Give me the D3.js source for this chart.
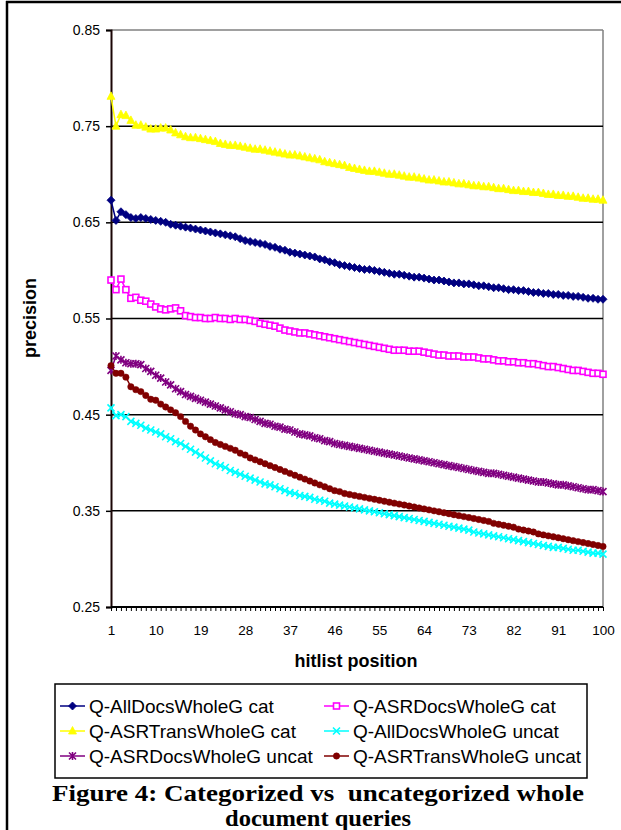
<!DOCTYPE html>
<html><head><meta charset="utf-8">
<script src="https://cdn.jsdelivr.net/npm/d3@7"></script>
<style>body{margin:0;background:#fff;}svg{display:block;}</style>
</head><body>
<svg id="chart" width="621" height="830"></svg>
<script>
const positions = d3.range(1, 101);
const xTickLabels = [1,10,19,28,37,46,55,64,73,82,91,100];
const yTicks = [0.25,0.35,0.45,0.55,0.65,0.75,0.85];
const seriesNames = ["Q-AllDocsWholeG cat","Q-ASRDocsWholeG cat","Q-ASRTransWholeG cat","Q-AllDocsWholeG uncat","Q-ASRDocsWholeG uncat","Q-ASRTransWholeG uncat"];

const allDocsCat = [0.673,0.652,0.661,0.658,0.655,0.654,0.655,0.654,0.653,0.652,
0.651,0.650,0.648,0.647,0.646,0.645,0.644,0.643,0.642,0.641,
0.640,0.639,0.638,0.637,0.636,0.635,0.633,0.631,0.630,0.629,
0.628,0.627,0.625,0.624,0.622,0.621,0.619,0.618,0.617,0.616,
0.615,0.614,0.612,0.611,0.609,0.608,0.606,0.605,0.604,0.603,
0.602,0.601,0.601,0.600,0.599,0.598,0.597,0.596,0.596,0.595,
0.594,0.593,0.593,0.592,0.591,0.590,0.590,0.589,0.588,0.587,
0.587,0.586,0.586,0.585,0.584,0.584,0.583,0.582,0.582,0.581,
0.580,0.580,0.579,0.579,0.578,0.577,0.577,0.576,0.576,0.575,
0.575,0.574,0.574,0.573,0.573,0.572,0.571,0.571,0.570,0.570];

const asrDocsCat = [0.590,0.580,0.591,0.580,0.571,0.572,0.569,0.568,0.565,0.562,
0.560,0.559,0.560,0.561,0.558,0.553,0.552,0.551,0.551,0.550,
0.550,0.551,0.550,0.550,0.549,0.550,0.549,0.549,0.548,0.547,
0.545,0.544,0.543,0.542,0.540,0.538,0.537,0.536,0.535,0.535,
0.534,0.533,0.532,0.531,0.530,0.529,0.528,0.527,0.526,0.525,
0.524,0.523,0.522,0.521,0.520,0.519,0.518,0.517,0.517,0.517,
0.516,0.516,0.516,0.515,0.514,0.513,0.512,0.512,0.511,0.511,
0.511,0.510,0.510,0.510,0.509,0.508,0.508,0.507,0.506,0.506,
0.505,0.505,0.504,0.504,0.503,0.503,0.502,0.501,0.500,0.500,
0.499,0.498,0.497,0.496,0.496,0.495,0.494,0.493,0.493,0.492];

const asrTransCat = [0.781,0.750,0.762,0.761,0.756,0.751,0.751,0.749,0.747,0.747,
0.748,0.748,0.746,0.743,0.741,0.739,0.738,0.738,0.737,0.736,
0.735,0.734,0.732,0.731,0.730,0.730,0.729,0.728,0.727,0.726,
0.726,0.725,0.724,0.723,0.722,0.721,0.720,0.720,0.719,0.718,
0.717,0.716,0.715,0.713,0.712,0.711,0.710,0.709,0.707,0.706,
0.705,0.704,0.703,0.703,0.702,0.701,0.700,0.700,0.699,0.698,
0.697,0.697,0.696,0.695,0.694,0.694,0.693,0.692,0.692,0.691,
0.690,0.690,0.689,0.688,0.688,0.687,0.687,0.686,0.685,0.685,
0.684,0.683,0.683,0.682,0.682,0.681,0.681,0.680,0.679,0.679,
0.678,0.678,0.677,0.677,0.676,0.675,0.675,0.674,0.674,0.673];

const allDocsUncat = [0.457,0.449,0.450,0.448,0.443,0.441,0.439,0.436,0.434,0.432,
0.430,0.427,0.425,0.422,0.420,0.417,0.414,0.411,0.408,0.405,
0.402,0.399,0.397,0.395,0.392,0.390,0.388,0.386,0.384,0.382,
0.380,0.378,0.377,0.375,0.373,0.371,0.369,0.368,0.366,0.365,
0.364,0.362,0.361,0.360,0.358,0.357,0.356,0.355,0.354,0.353,
0.352,0.351,0.350,0.349,0.348,0.347,0.346,0.345,0.344,0.343,
0.342,0.341,0.340,0.339,0.338,0.337,0.336,0.335,0.334,0.333,
0.332,0.331,0.330,0.328,0.327,0.326,0.325,0.324,0.323,0.322,
0.321,0.320,0.319,0.318,0.317,0.316,0.315,0.314,0.313,0.312,
0.312,0.311,0.310,0.309,0.309,0.308,0.307,0.306,0.306,0.305];

const asrDocsUncat = [0.496,0.511,0.507,0.504,0.503,0.503,0.502,0.498,0.495,0.491,
0.488,0.484,0.481,0.477,0.474,0.471,0.469,0.467,0.465,0.463,
0.461,0.459,0.457,0.455,0.453,0.451,0.450,0.448,0.447,0.445,
0.443,0.441,0.440,0.438,0.437,0.435,0.434,0.432,0.430,0.429,
0.428,0.426,0.425,0.423,0.422,0.420,0.419,0.418,0.417,0.416,
0.415,0.414,0.413,0.412,0.411,0.410,0.409,0.408,0.407,0.406,
0.405,0.404,0.403,0.402,0.401,0.400,0.399,0.398,0.397,0.396,
0.395,0.394,0.393,0.392,0.391,0.390,0.389,0.389,0.388,0.387,
0.386,0.385,0.384,0.383,0.382,0.381,0.380,0.380,0.379,0.378,
0.377,0.377,0.376,0.375,0.374,0.373,0.372,0.372,0.371,0.370];

const asrTransUncat = [0.501,0.493,0.493,0.489,0.479,0.476,0.474,0.470,0.466,0.465,
0.461,0.458,0.455,0.452,0.448,0.443,0.438,0.434,0.430,0.427,
0.424,0.421,0.419,0.417,0.415,0.413,0.410,0.408,0.405,0.403,
0.401,0.399,0.397,0.395,0.393,0.391,0.389,0.387,0.385,0.383,
0.381,0.379,0.377,0.375,0.373,0.371,0.370,0.368,0.367,0.366,
0.365,0.364,0.363,0.362,0.361,0.360,0.359,0.358,0.357,0.356,
0.355,0.354,0.353,0.352,0.351,0.350,0.349,0.348,0.347,0.346,
0.345,0.344,0.343,0.342,0.341,0.340,0.339,0.337,0.336,0.335,
0.334,0.333,0.331,0.330,0.329,0.328,0.326,0.325,0.324,0.323,
0.322,0.321,0.320,0.319,0.318,0.317,0.316,0.315,0.314,0.313];

const seriesValues = [allDocsCat, asrDocsCat, asrTransCat, allDocsUncat, asrDocsUncat, asrTransUncat];
const colors = ["#000080","#ff00ff","#ffff00","#00ffff","#800080","#800000"];
const markers = ["diamond","square","triangle","x","star","circle"];

const SANS = "'Liberation Sans', Arial, sans-serif";
const SERIF = "'Liberation Serif', 'Times New Roman', serif";

const svg = d3.select("#chart");
const L = 111, R = 603, T = 30, B = 607;
const x = d3.scalePoint().domain(positions).range([L, R]);
const y = d3.scaleLinear().domain([0.25, 0.85]).range([B, T]);

// outer frame
svg.append("line").attr("x1",7).attr("x2",7).attr("y1",1).attr("y2",830).attr("stroke","#000").attr("stroke-width",2.5);
svg.append("line").attr("x1",6).attr("x2",621).attr("y1",2).attr("y2",2).attr("stroke","#000").attr("stroke-width",2.5);

// plot border (top/right grey)
svg.append("line").attr("x1",L).attr("x2",R).attr("y1",T).attr("y2",T).attr("stroke","#808080").attr("stroke-width",1.5);
svg.append("line").attr("x1",R).attr("x2",R).attr("y1",T).attr("y2",B).attr("stroke","#808080").attr("stroke-width",1.5);

// gridlines
svg.append("g").selectAll("line").data(yTicks.filter(v => v > 0.3 && v < 0.8)).join("line")
  .attr("x1",L).attr("x2",R).attr("y1",d=>y(d)).attr("y2",d=>y(d))
  .attr("stroke","#000").attr("stroke-width",1.5);

// y axis
const yAxis = d3.axisLeft(y).tickValues(yTicks).tickFormat(d3.format(".2f")).tickSize(5).tickPadding(6);
const gy = svg.append("g").attr("transform",`translate(${L},0)`).call(yAxis);
gy.select(".domain").attr("stroke","#1a0505").attr("stroke-width",2);
gy.selectAll(".tick line").attr("stroke","#000").attr("stroke-width",1.5);
gy.selectAll("text").attr("font-family",SANS).attr("font-size",14).attr("fill","#000");

// x axis
const xAxis = d3.axisBottom(x).tickValues(positions).tickSize(4).tickPadding(14)
  .tickFormat(d => xTickLabels.includes(d) ? d : "");
const gx = svg.append("g").attr("transform",`translate(0,${B})`).call(xAxis);
gx.select(".domain").attr("stroke","#000").attr("stroke-width",2).attr("d",`M${L},0H${R}`);
gx.selectAll(".tick line").attr("stroke","#000").attr("stroke-width",1);
gx.selectAll("text").attr("font-family",SANS).attr("font-size",13.5).attr("fill","#000");

// axis titles
svg.append("text").attr("x",356).attr("y",667).attr("text-anchor","middle")
  .attr("font-family",SANS).attr("font-weight","bold").attr("font-size",18).text("hitlist position");
svg.append("text").attr("transform","translate(36,318) rotate(-90)").attr("text-anchor","middle")
  .attr("font-family",SANS).attr("font-weight","bold").attr("font-size",18).text("precision");

function drawMarker(g, type, color, cx, cy) {
  if (type === "diamond") {
    g.append("path").attr("d",`M${cx},${cy-4}L${cx+4},${cy}L${cx},${cy+4}L${cx-4},${cy}Z`).attr("fill",color).attr("stroke",color).attr("stroke-width",0.8);
  } else if (type === "square") {
    g.append("rect").attr("x",cx-3).attr("y",cy-3).attr("width",6).attr("height",6).attr("fill","#fff").attr("stroke",color).attr("stroke-width",1.6);
  } else if (type === "triangle") {
    g.append("path").attr("d",`M${cx},${cy-4.5}L${cx+4},${cy+3}L${cx-4},${cy+3}Z`).attr("fill",color).attr("stroke",color).attr("stroke-width",0.8);
  } else if (type === "x") {
    g.append("path").attr("d",`M${cx-3.5},${cy-3.5}L${cx+3.5},${cy+3.5}M${cx-3.5},${cy+3.5}L${cx+3.5},${cy-3.5}`).attr("stroke",color).attr("stroke-width",1.6);
  } else if (type === "star") {
    g.append("path").attr("d",`M${cx-3.5},${cy-3.5}L${cx+3.5},${cy+3.5}M${cx-3.5},${cy+3.5}L${cx+3.5},${cy-3.5}M${cx},${cy-4}L${cx},${cy+4}`).attr("stroke",color).attr("stroke-width",1.6);
  } else if (type === "circle") {
    g.append("circle").attr("cx",cx).attr("cy",cy).attr("r",3.2).attr("fill",color).attr("stroke",color).attr("stroke-width",0.5);
  }
}

const line = d3.line().x((d,i)=>x(positions[i])).y(d=>y(d));
seriesValues.forEach((vals, si) => {
  const g = svg.append("g");
  g.append("path").datum(vals).attr("d",line).attr("fill","none").attr("stroke",colors[si]).attr("stroke-width",1.5);
  vals.forEach((v,i) => drawMarker(g, markers[si], colors[si], x(positions[i]), y(v)));
});

// legend
const legX = 55, legY = 684, legW = 532, legH = 94;
svg.append("rect").attr("x",legX).attr("y",legY).attr("width",legW).attr("height",legH).attr("fill","#fff").attr("stroke","#000").attr("stroke-width",1.5);
const colX = [60, 324], rowY = [706, 731, 756];
seriesNames.forEach((name, si) => {
  const cx = colX[si % 2], cy = rowY[Math.floor(si / 2)];
  const g = svg.append("g");
  g.append("line").attr("x1",cx).attr("x2",cx+25).attr("y1",cy).attr("y2",cy).attr("stroke",colors[si]).attr("stroke-width",1.5);
  drawMarker(g, markers[si], colors[si], cx+12.5, cy);
  g.append("text").attr("x",cx+29).attr("y",cy+6.5).attr("font-family",SANS).attr("font-size",19).attr("fill","#000").text(name);
});

// caption
svg.append("text").attr("x",318).attr("y",801).attr("text-anchor","middle")
  .attr("font-family",SERIF).attr("font-weight","bold").attr("font-size",23)
  .attr("textLength",532).attr("lengthAdjust","spacingAndGlyphs")
  .style("white-space","pre").text("Figure 4: Categorized vs  uncategorized whole");
svg.append("text").attr("x",318).attr("y",826).attr("text-anchor","middle")
  .attr("font-family",SERIF).attr("font-weight","bold").attr("font-size",23)
  .attr("textLength",186).attr("lengthAdjust","spacingAndGlyphs")
  .text("document queries");
</script>
</body></html>
